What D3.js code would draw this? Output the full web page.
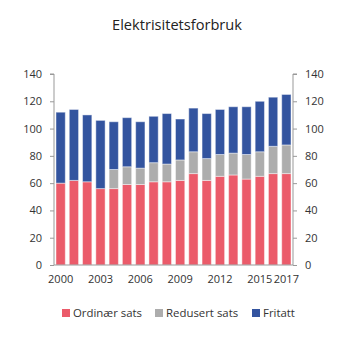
<!DOCTYPE html>
<html><head><meta charset="utf-8">
<script src="https://cdn.jsdelivr.net/npm/d3@7"></script>
<style>body{margin:0;background:#fff}svg{display:block}text{font-family:"Open Sans",sans-serif}</style>
</head><body><svg id="c" width="353" height="353"></svg>
<script>
const years = [2000,2001,2002,2003,2004,2005,2006,2007,2008,2009,2010,2011,2012,2013,2014,2015,2016,2017];
const ordinar = [60,62,61,56,56,59,59,61,61,62,67,62,65,66,63,65,67,67];
const redusert = [0,0,0,0,14,13,12,14,13,15,16,16,16,16,18,18,20,21];
const fritatt = [52,52,49,50,35,36,34,34,37,30,32,33,33,34,35,37,36,37];
const seriesNames = ["Ordinær sats","Redusert sats","Fritatt"];
const colors = ["#eb5b6a","#adadad","#33549f"];
const yTicks = [0,20,40,60,80,100,120,140];
const xLabels = [2000,2003,2006,2009,2012,2015,2017];

const svg = d3.select("#c");
const L = 54, R = 293, T = 74, B = 265;
const x = d3.scaleBand().domain(years).range([L, R]).paddingInner(0.3).paddingOuter(0.15);
const y = d3.scaleLinear().domain([0,140]).range([B, T]);

const rows = years.map((yr,i)=>({year:yr, "Ordinær sats":ordinar[i], "Redusert sats":redusert[i], "Fritatt":fritatt[i]}));
const stack = d3.stack().keys(seriesNames)(rows);

svg.append("text").attr("x",177).attr("y",30).attr("text-anchor","middle")
  .attr("font-size",14.6).attr("fill","#222").text("Elektrisitetsforbruk");

stack.forEach((s,si)=>{
  svg.append("g").selectAll("rect").data(s).join("rect")
    .attr("x",d=>x(d.data.year)).attr("width",x.bandwidth())
    .attr("y",d=>y(d[1])).attr("height",d=>Math.max(0,y(d[0])-y(d[1])))
    .attr("fill",colors[si])
    .attr("stroke","#fff").attr("stroke-opacity",d=>d[1]-d[0]>0?0.45:0).attr("stroke-width",1);
});

const axL = svg.append("g").attr("transform",`translate(${L},0)`)
  .call(d3.axisLeft(y).tickValues(yTicks).tickSize(4).tickPadding(8));
const axR = svg.append("g").attr("transform",`translate(${R},0)`)
  .call(d3.axisRight(y).tickValues(yTicks).tickSize(4).tickPadding(8));
[axL,axR].forEach(a=>{
  a.select(".domain").attr("stroke","#999");
  a.selectAll(".tick line").attr("stroke","#999");
  a.selectAll("text").attr("font-size",11).attr("fill","#333").attr("font-family","Open Sans, sans-serif");
});
axL.select(".domain").attr("d",`M-4,${T}H0V${B}`);
axR.select(".domain").attr("d",`M4,${T}H0V${B}`);

const axB = svg.append("g").attr("transform",`translate(0,${B})`)
  .call(d3.axisBottom(x).tickValues(xLabels).tickSize(0).tickPadding(10));
axB.select(".domain").attr("stroke","#999").attr("d",`M${L},0H${R}`);
axB.selectAll("text").attr("font-size",11).attr("fill","#333").attr("font-family","Open Sans, sans-serif");

const lg = svg.append("g");
const lx = [62,155,252];
seriesNames.forEach((n,i)=>{
  lg.append("rect").attr("x",lx[i]).attr("y",309).attr("width",8).attr("height",8).attr("fill",colors[i]);
  lg.append("text").attr("x",lx[i]+11).attr("y",317).attr("font-size",11.4).attr("fill","#333").text(n);
});
</script></body></html>
